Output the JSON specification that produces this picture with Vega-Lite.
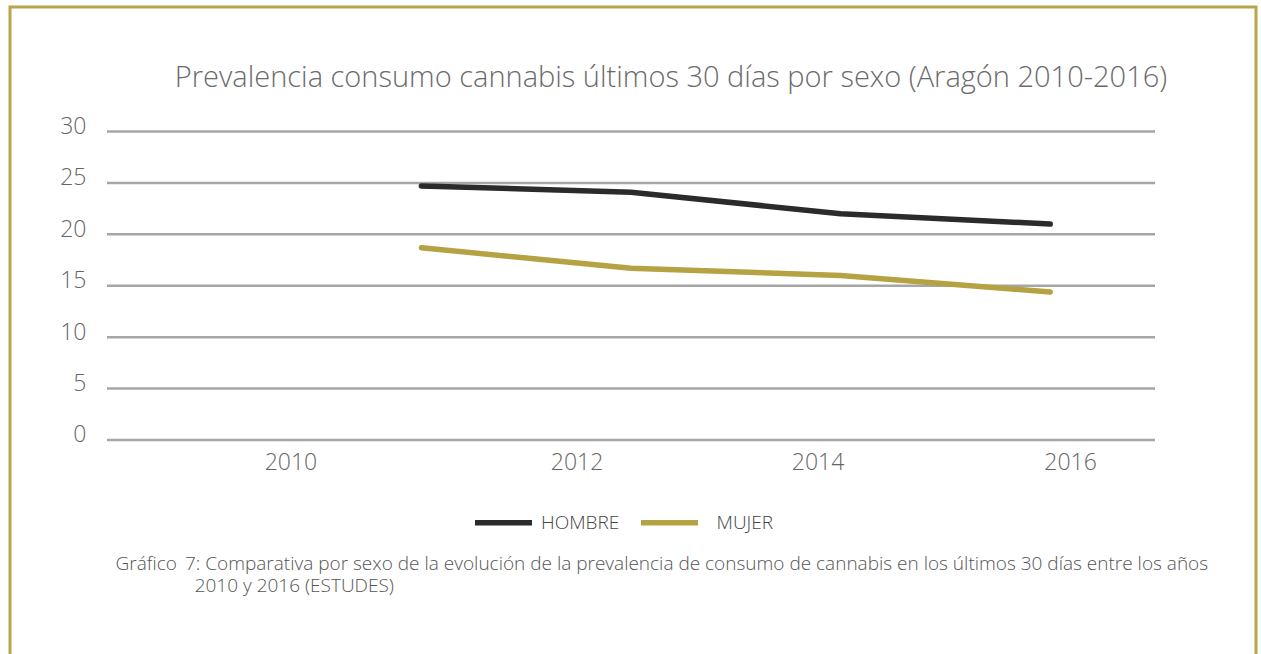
{
  "$schema": "https://vega.github.io/schema/vega-lite/v6.json",
  "autosize": {"type": "none"},
  "padding": {"left": 10, "top": 7, "right": 5, "bottom": 0},
  "width": 1246,
  "height": 700,
  "background": "white",
  "config": {
    "font": "Open Sans",
    "view": {"stroke": "#b8a64a", "strokeWidth": 3}
  },
  "title": {
    "text": "Prevalencia consumo cannabis últimos 30 días por sexo (Aragón 2010-2016)",
    "fontSize": 29,
    "fontWeight": 300,
    "color": "#6b6b6b",
    "anchor": "middle",
    "frame": "group",
    "baseline": "alphabetic",
    "offset": -109,
    "dx": 38
  },
  "layer": [
    {
      "data": {"values": [{"v": 0}, {"v": 5}, {"v": 10}, {"v": 15}, {"v": 20}, {"v": 25}, {"v": 30}]},
      "mark": {"type": "rule", "color": "#a6a6a6", "strokeWidth": 2.5},
      "encoding": {
        "y": {"field": "v", "type": "quantitative"},
        "x": {"datum": 2007, "type": "quantitative"},
        "x2": {"datum": 2017}
      }
    },
    {
      "data": {"values": [
        {"anio": 2010, "sexo": "HOMBRE", "valor": 24.7},
        {"anio": 2012, "sexo": "HOMBRE", "valor": 24.1},
        {"anio": 2014, "sexo": "HOMBRE", "valor": 22.0},
        {"anio": 2016, "sexo": "HOMBRE", "valor": 21.0},
        {"anio": 2010, "sexo": "MUJER", "valor": 18.7},
        {"anio": 2012, "sexo": "MUJER", "valor": 16.7},
        {"anio": 2014, "sexo": "MUJER", "valor": 16.0},
        {"anio": 2016, "sexo": "MUJER", "valor": 14.4}
      ]},
      "mark": {"type": "line", "strokeWidth": 5.5, "strokeCap": "round", "strokeJoin": "round"},
      "encoding": {
        "x": {
          "field": "anio",
          "type": "quantitative",
          "scale": {"domain": [2006.0744, 2017.9637], "nice": false, "zero": false},
          "axis": {
            "orient": "bottom",
            "offset": -267,
            "domain": false,
            "ticks": false,
            "grid": false,
            "values": [2008.75, 2011.48, 2013.78, 2016.19],
            "labelExpr": "datum.value < 2010 ? '2010' : datum.value < 2012 ? '2012' : datum.value < 2014.5 ? '2014' : '2016'",
            "labelFontSize": 23,
            "labelFontWeight": 300,
            "labelColor": "#666666",
            "labelPadding": 11,
            "title": ["Gráfico\u2009 7: Comparativa por sexo de la evolución de la prevalencia de consumo de cannabis en los últimos 30 días entre los años", "\u200b\u2003\u2003\u2003\u2003\u20092010 y 2016 (ESTUDES)"],
            "titleX": 105,
            "titleY": 129,
            "titleAlign": "left",
            "titleAnchor": null,
            "titleBaseline": "alphabetic",
            "titleFontSize": 19,
            "titleFontWeight": 300,
            "titleColor": "#555555",
            "titleLineHeight": 22
          }
        },
        "y": {
          "field": "valor",
          "type": "quantitative",
          "scale": {"domain": [-25.965, 42.107], "nice": false, "zero": false},
          "axis": {
            "orient": "left",
            "offset": -80,
            "domain": false,
            "ticks": false,
            "grid": false,
            "values": [0, 5, 10, 15, 20, 25, 30],
            "labelFontSize": 23,
            "labelFontWeight": 300,
            "labelColor": "#666666",
            "labelPadding": 4,
            "labelOffset": -5,
            "title": null
          }
        },
        "color": {
          "field": "sexo",
          "type": "nominal",
          "scale": {"domain": ["HOMBRE", "MUJER"], "range": ["#2b2b29", "#b5a243"]},
          "legend": {
            "title": null,
            "orient": "none",
            "direction": "horizontal",
            "legendX": 462,
            "legendY": 484,
            "symbolType": "stroke",
            "symbolSize": 3249,
            "symbolStrokeWidth": 5.5,
            "labelFontSize": 19,
            "labelFontWeight": 300,
            "labelColor": "#444444",
            "labelOffset": 6,
            "columnPadding": 10,
            "labelExpr": "datum.label == 'MUJER' ? '\u200b\u2002MUJER' : datum.label"
          }
        }
      }
    }
  ]
}
